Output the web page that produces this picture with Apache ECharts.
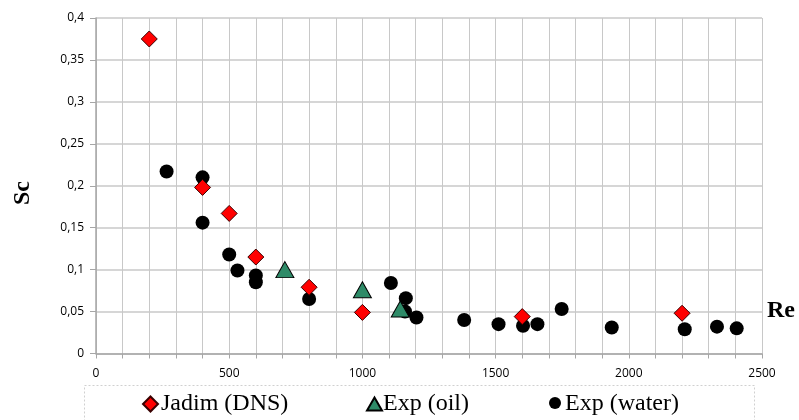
<!DOCTYPE html>
<html><head><meta charset="utf-8">
<script src="https://cdn.jsdelivr.net/npm/echarts@6/dist/echarts.min.js"></script>
<style>html,body{margin:0;padding:0;background:#fff}#c{width:799px;height:420px}</style>
</head><body><div id="c"></div>
<script>
const jadimRe = [200, 400, 500, 600, 800, 1000, 1600, 2200];
const jadimSc = [0.375, 0.198, 0.167, 0.115, 0.079, 0.049, 0.044, 0.048];
const oilRe = [709, 1000, 1142];
const oilSc = [0.100, 0.076, 0.053];
const waterRe = [265, 400, 400, 500, 531, 600, 600, 800, 1107, 1163, 1160, 1203, 1382, 1511, 1603, 1657, 1748, 1936, 2210, 2331, 2405];
const waterSc = [0.217, 0.210, 0.156, 0.118, 0.099, 0.093, 0.085, 0.065, 0.084, 0.066, 0.050, 0.043, 0.040, 0.035, 0.033, 0.035, 0.053, 0.031, 0.029, 0.032, 0.030];
const seriesNames = ['Jadim (DNS)', 'Exp (oil)', 'Exp (water)'];
const yTitle = 'Sc';
const xTitle = 'Re';

const zip = (a, b) => a.map((v, i) => [v, b[i]]);
const legendFont = '24px "Liberation Serif", "Times New Roman", serif';
const mkLegend = (left, name, icon, w, h) => ({
  left: left, top: 403 - h / 2, padding: 0, itemWidth: w, itemHeight: h,
  formatter: () => '', data: [{ name: name, icon: icon }]
});
const mkLabel = (x, name) => ({
  type: 'text', x: x, y: 404,
  style: { text: name, font: legendFont, fill: '#000', verticalAlign: 'middle', textVerticalAlign: 'middle' }
});
const chart = echarts.init(document.getElementById('c'));
chart.setOption({
  animation: false,
  backgroundColor: '#fff',
  grid: { left: 96, right: 37, top: 18, bottom: 66.5, containLabel: false },
  xAxis: {
    type: 'value', min: 0, max: 2500, interval: 100,
    axisLine: { show: true, lineStyle: { color: '#a6a6a6', width: 1.5 } },
    axisTick: { show: true, length: 5, lineStyle: { color: '#a6a6a6' } },
    splitLine: { show: true, lineStyle: { color: '#c8c8c8', width: 1 } },
    axisLabel: {
      margin: 14, color: '#000', fontFamily: 'Open Sans', fontSize: 12,
      formatter: v => (v % 500 === 0 ? String(v) : '')
    }
  },
  yAxis: {
    type: 'value', min: 0, max: 0.4, interval: 0.05,
    axisLine: { show: true, lineStyle: { color: '#a6a6a6', width: 1.5 } },
    axisTick: { show: true, length: 6, lineStyle: { color: '#a6a6a6' } },
    splitLine: { show: true, lineStyle: { color: '#c8c8c8', width: 1.5 } },
    axisLabel: {
      margin: 12, color: '#000', fontFamily: 'Open Sans', fontSize: 12,
      formatter: v => String(Math.round(v * 100) / 100).replace('.', ',')
    }
  },
  legend: [
    mkLegend(142, seriesNames[0], 'diamond', 15, 15),
    mkLegend(366, seriesNames[1], 'triangle', 15, 13),
    mkLegend(549, seriesNames[2], 'circle', 12, 12)
  ],
  graphic: [
    { type: 'rect', left: 82, top: 383, shape: { width: 670, height: 50 },
      style: { fill: 'none', stroke: '#d0d0d0', lineWidth: 1, lineDash: [2, 2] }, z: -1 },
    { type: 'text', x: 11, y: 205, rotation: Math.PI / 2,
      style: { text: yTitle, font: 'bold 24px "Liberation Serif"', fill: '#000' } },
    { type: 'text', left: 767, top: 299,
      style: { text: xTitle, font: 'bold 24px "Liberation Serif"', fill: '#000' } },
    mkLabel(161, seriesNames[0]),
    mkLabel(383, seriesNames[1]),
    mkLabel(565, seriesNames[2])
  ],
  series: [
    { name: seriesNames[2], type: 'scatter', data: zip(waterRe, waterSc), symbol: 'circle', symbolSize: 14,
      itemStyle: { color: '#000', opacity: 1 }, z: 2 },
    { name: seriesNames[1], type: 'scatter', data: zip(oilRe, oilSc), symbol: 'triangle', symbolSize: [18, 16],
      itemStyle: { color: '#2e8b68', borderColor: '#000', borderWidth: 1, opacity: 1 }, z: 3 },
    { name: seriesNames[0], type: 'scatter', data: zip(jadimRe, jadimSc), symbol: 'diamond', symbolSize: 16,
      itemStyle: { color: '#ff0000', borderColor: '#3a0000', borderWidth: 1, opacity: 1 }, z: 4 }
  ]
});
</script></body></html>
